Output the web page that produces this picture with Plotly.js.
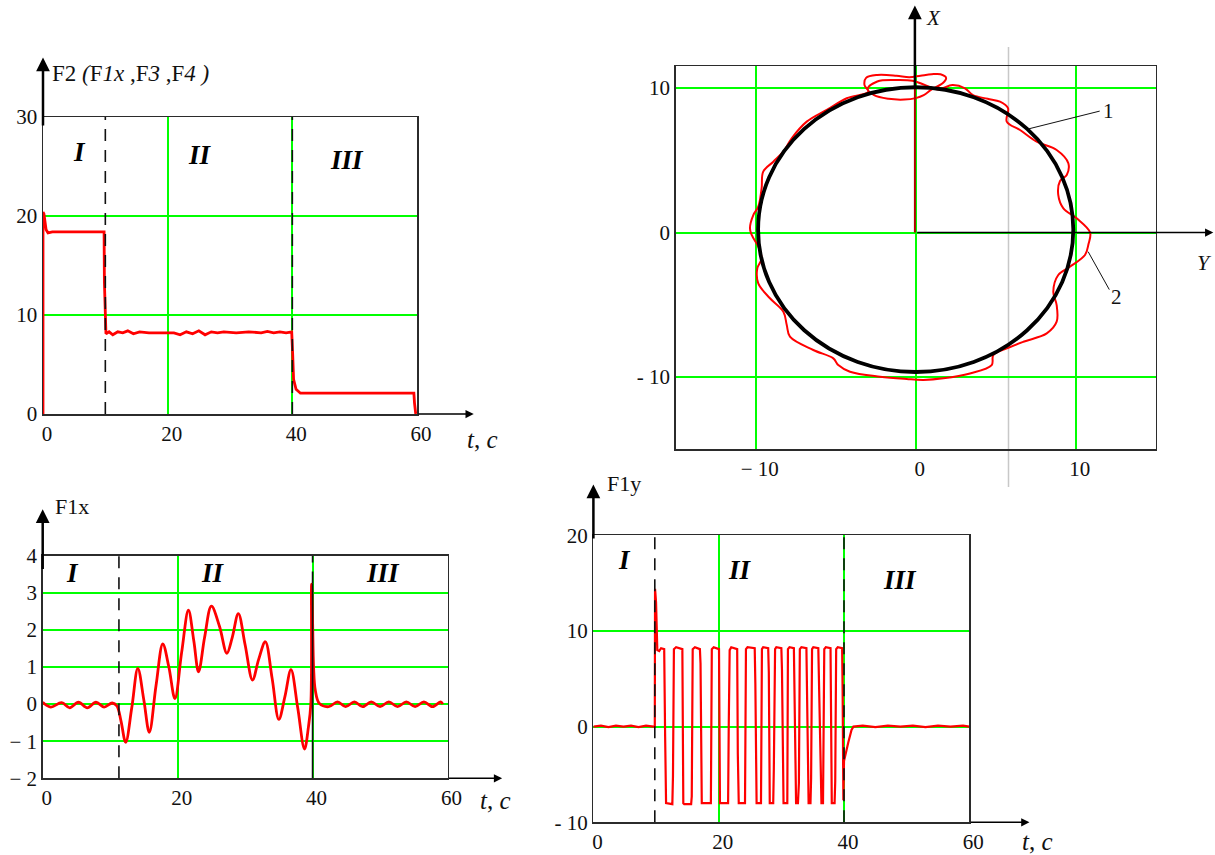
<!DOCTYPE html>
<html>
<head>
<meta charset="utf-8">
<script src="https://cdn.plot.ly/plotly-3.0.1.min.js"></script>
<style>
  html, body { margin: 0; padding: 0; background: #ffffff; }
  #chart { width: 1215px; height: 855px; }
</style>
</head>
<body>
<div id="chart"></div>
<script>
// ---- Data -------------------------------------------------------------

// F2 (F1x, F3, F4) versus time, s
const f2Time = [0, 0, 0.15, 0.5, 0.8, 1.5, 3, 5, 7, 9,
  9.8, 9.85, 10.0, 10.1, 10.6, 11.2, 12, 12.8, 13.6, 14.5,
  15.5, 17, 19, 21, 22, 23, 24, 25, 26, 27,
  28, 29, 31, 33, 35, 36, 37, 38, 39, 39.9,
  40.05, 40.2, 40.6, 41.3, 45, 50, 55, 59.5, 59.6, 59.8];
const f2Value = [0, 20.4, 20.2, 18.6, 18.3, 18.4, 18.4, 18.4, 18.4, 18.4,
  18.4, 13.3, 10.5, 8.1, 8.3, 8.0, 8.3, 8.2, 8.4, 8.1,
  8.3, 8.2, 8.2, 8.2, 8.0, 8.3, 8.1, 8.4, 8.0, 8.3,
  8.2, 8.3, 8.2, 8.3, 8.2, 8.35, 8.2, 8.3, 8.2, 8.3,
  6.1, 3.5, 2.5, 2.1, 2.1, 2.1, 2.1, 2.1, 1.1, 0];
const f2Switch = [10, 40];

// F1x versus time
const f1xTime = [0, 1.2, 2.8, 4.0, 5.3, 6.6, 7.9, 9.1, 10.3, 11.0,
  11.6, 12.3, 13.2, 14.1, 15.0, 15.8, 16.8, 17.8, 18.7, 19.6,
  20.6, 21.6, 22.4, 23.1, 24.0, 25.0, 26.2, 27.3, 28.1, 29.0,
  30.0, 31.1, 32.0, 33.0, 34.0, 35.0, 35.9, 36.8, 37.8, 38.8,
  39.4, 39.75, 39.85, 40.0, 40.15, 40.4, 41.0, 42.4, 43.7, 44.9,
  46.2, 47.4, 48.7, 50.0, 51.3, 52.6, 53.9, 55.2, 56.5, 57.8,
  59.0, 59.3];
const f1xValue = [0.05, -0.08, 0.04, -0.1, 0.05, -0.1, 0.05, -0.08, 0.03, -0.05,
  -0.45, -1.03, -0.1, 0.96, 0.1, -0.76, 0.5, 1.62, 1.0, 0.15,
  1.4, 2.53, 1.7, 0.87, 1.8, 2.64, 2.1, 1.37, 1.8, 2.44,
  1.6, 0.65, 1.2, 1.68, 0.7, -0.41, 0.2, 0.93, -0.1, -1.21,
  -0.6, 0.02, 3.23, 2.26, 1.0, 0.38, 0.02, -0.07, 0.06, -0.07,
  0.06, -0.07, 0.06, -0.07, 0.06, -0.07, 0.06, -0.07, 0.06, -0.07,
  0.06, 0.0];
const f1xSwitch = [11.3, 40];

// F1y versus time
const f1yTime = [0, 1.2, 2.4, 3.6, 4.8, 6.0, 7.2, 8.4, 9.6, 9.8,
  9.84, 10.0, 10.2, 10.5, 10.8, 11.3, 11.45, 11.6,
  12.6, 12.7, 12.85, 13.2, 14.2, 14.35, 14.5,
  15.6, 15.7, 15.85, 16.2, 17.0, 17.1, 17.3,
  18.75, 18.9, 19.2, 20.05, 20.2,
  21.5, 21.6, 21.75, 22.0, 22.95, 23.05, 23.2,
  24.2, 24.35, 24.6, 25.75, 25.85, 26.05,
  26.75, 26.9, 27.1, 27.9, 28.0, 28.15,
  28.7, 28.8, 29.0, 29.2, 30.0, 30.1, 30.35,
  30.95, 31.05, 31.3, 32.0, 32.1, 32.35,
  32.65, 32.8, 32.95, 33.2, 34.0, 34.1, 34.35,
  34.65, 34.75, 34.9, 35.1, 35.9, 36.1, 36.4,
  36.65, 36.72, 36.85, 37.1, 37.85, 38.05,
  38.5, 38.6, 38.75, 39.0, 39.7, 39.78, 39.9,
  40.0, 40.3, 40.7, 41.2, 41.5, 43, 45, 47, 49, 51, 53, 55, 57, 59, 60];
const f1yValue = [0, 0.1, -0.05, 0.1, 0, 0.1, -0.05, 0.1, 0, 0,
  14.4, 13.0, 8.0, 7.9, 8.2, 8.1, -1.0, -8.0,
  -8.1, -5.2, 8.1, 8.3, 8.1, -8.0, -8.1,
  -8.1, -7.3, 8.1, 8.3, 8.1, 6.6, -8.0,
  -8.0, 8.1, 8.3, 8.1, -8.0,
  -8.0, -0.2, 8.0, 8.3, 8.1, -2.8, -8.0,
  -8.0, 8.1, 8.3, 8.2, 4.5, -8.0,
  -8.0, 8.1, 8.3, 8.2, 5.7, -8.0,
  -8.0, -4.4, 8.1, 8.3, 8.2, 5.9, -8.0,
  -8.0, 8.1, 8.3, 8.2, 1.4, -8.0,
  -8.0, -5.9, 8.1, 8.3, 8.2, 3.1, -8.0,
  -8.0, -5.4, 8.1, 8.3, 8.2, 0.7, -8.0,
  -8.0, -3.5, 8.1, 8.3, 8.2, -8.0,
  -8.0, -5.7, 8.1, 8.3, 8.2, 3.7, -7.7,
  -3.6, -2.6, -1.6, -0.35, 0, 0.1, -0.05, 0.1, 0, 0.1, -0.05, 0.1, 0, 0.1, 0];
const f1ySwitch = [9.8, 40];

// Trajectory in the Y (horizontal) – X (vertical) plane, curve 2
const pathY = [-2.96, -3.2, -3.1, -2.4, -1.2, -0.4, 0.3, 1.0, 1.55, 1.9,
  1.7, 1.0, 0.5, 0.0, -0.7, -1.7, -2.6, -3.0, -2.4, -1.3,
  -0.2, 0.6, 1.4, 2.3, 3.08, 3.58, 4.5, 5.27, 5.77, 5.69,
  6.52, 7.56, 8.81, 9.54, 9.44, 9.02, 8.91, 9.23, 10.06, 10.9,
  10.8, 10.58, 9.64, 8.91, 8.6, 8.81, 8.81, 8.19, 6.73, 5.69,
  4.85, 4.75, 3.39, 1.73, 0.48, -0.56, -2.23, -4.11, -4.84, -5.15,
  -6.4, -7.86, -8.06, -8.27, -9.11, -9.84, -9.9, -9.63, -9.84, -10.25,
  -10.36, -10.15, -9.84, -9.63, -9.53, -8.9, -8.28, -7.75, -6.81, -5.56,
  -4.31, -2.96];
const pathX = [9.74, 10.2, 10.7, 10.9, 10.85, 10.75, 10.85, 10.95, 10.95, 10.7,
  10.35, 9.9, 9.5, 9.3, 9.2, 9.25, 9.5, 9.95, 10.45, 10.55,
  10.5, 10.2, 9.9, 10.2, 9.98, 9.5, 9.25, 9.05, 8.6, 7.67,
  7.09, 6.28, 5.71, 4.79, 3.98, 3.56, 2.6, 1.67, 0.98, 0.0,
  -0.8, -1.56, -2.37, -2.94, -4.1, -5.02, -6.17, -6.98, -7.56, -8.02,
  -8.48, -9.17, -9.75, -10.09, -10.2, -10.14, -9.98, -9.63, -9.17, -8.71,
  -8.13, -7.21, -6.4, -5.48, -4.55, -3.52, -2.48, -1.79, -0.98, -0.17,
  0.3, 1.21, 1.79, 3.06, 4.21, 4.9, 5.59, 6.52, 7.67, 8.48,
  9.29, 9.74];

// Reference circle, curve 1: centre [Y, X] and radius
const circleCenter = [0, 0.2];
const circleRadius = 9.85;

// Initial position vector along X
const vectorY = [-0.05, -0.05];
const vectorX = [0, 10];
const markerLineY = 5.8;

// Tick labels
const timeTicks = [0, 20, 40, 60];
const f2Ticks = [0, 10, 20, 30];
const f1xTicks = [-2, -1, 0, 1, 2, 3, 4];
const f1xTickText = ['\u2212 2', '\u2212 1', '0', '1', '2', '3', '4'];
const f1yTicks = [-10, 0, 10, 20];
const f1yTickText = ['- 10', '0', '10', '20'];
const planeTicks = [-10, 0, 10];
const planeTickTextH = ['\u2212 10', '0', '10'];
const planeTickTextV = ['- 10', '0', '10'];
const regimes = ['I', 'II', 'III'];

// ---- Layout helpers ---------------------------------------------------
const W = 1215, H = 855;
const serif = 'Liberation Serif, Times New Roman, serif';
const px = v => v / W;
const py = v => 1 - v / H;

function frameAxis(extra) {
  return Object.assign({
    showline: true, mirror: true, linecolor: '#2b2b2b', linewidth: 1.5,
    ticks: '', zeroline: false, showgrid: true,
    gridcolor: '#00ff00', gridwidth: 2,
    tickmode: 'array', fixedrange: true,
    tickfont: { family: serif, size: 21, color: '#111' }
  }, extra);
}
function timeAxis(extra) {
  return frameAxis(Object.assign({ ticklabelshift: 4, ticklabelstandoff: 0 }, extra));
}

const red = '#ff0000';

const traces = [
  { x: f2Time, y: f2Value, xaxis: 'x', yaxis: 'y', mode: 'lines',
    line: { color: red, width: 2.8 } },
  { x: pathY, y: pathX, xaxis: 'x2', yaxis: 'y2', mode: 'lines',
    line: { color: red, width: 2, shape: 'spline', smoothing: 1 } },
  { x: vectorY, y: vectorX, xaxis: 'x2', yaxis: 'y2', mode: 'lines',
    line: { color: '#b00000', width: 2 } },
  { x: f1xTime, y: f1xValue, xaxis: 'x3', yaxis: 'y3', mode: 'lines',
    line: { color: red, width: 2.8, shape: 'spline', smoothing: 1 } },
  { x: f1yTime, y: f1yValue, xaxis: 'x4', yaxis: 'y4', mode: 'lines',
    line: { color: red, width: 2.2 } }
];

const dash = '12px,9px';
function vline(xr, yr, t, y0, y1, style) {
  return Object.assign({ type: 'line', xref: xr, yref: yr, x0: t, x1: t, y0: y0, y1: y1,
    line: { color: '#111', width: 1.6, dash: dash } }, style || {});
}

const shapes = [
  vline('x', 'y', f2Switch[0], 0, 30),
  vline('x', 'y', f2Switch[1], 0, 30),
  vline('x3', 'y3', f1xSwitch[0], -2, 4),
  vline('x3', 'y3', f1xSwitch[1], -2, 3.25, { line: { color: '#111', width: 1.6 } }),
  vline('x3', 'y3', f1xSwitch[1], 3.25, 4),
  vline('x4', 'y4', f1ySwitch[0], -10, 20),
  vline('x4', 'y4', f1ySwitch[1], -10, 20),
  { type: 'line', xref: 'x2', yref: 'paper', x0: markerLineY, x1: markerLineY,
    y0: py(487), y1: py(47), layer: 'below', line: { color: '#c8c8c8', width: 1.5 } },
  { type: 'circle', xref: 'x2', yref: 'y2',
    x0: circleCenter[0] - circleRadius, x1: circleCenter[0] + circleRadius,
    y0: circleCenter[1] - circleRadius, y1: circleCenter[1] + circleRadius,
    line: { color: '#000', width: 3.8 } },
  { type: 'line', xref: 'x2', yref: 'y2', x0: 7.02, y0: 7.16, x1: 11.5, y1: 8.4,
    line: { color: '#111', width: 1 } },
  { type: 'line', xref: 'x2', yref: 'y2', x0: 10.78, y0: -1.33, x1: 12.1, y1: -3.95,
    line: { color: '#111', width: 1 } }
];

function arrow(xr, yr, x, y, ax, ay, w) {
  return { xref: xr, yref: yr, axref: xr, ayref: yr, x: x, y: y, ax: ax, ay: ay,
    text: '', showarrow: true, arrowhead: 2, arrowsize: 1.1, arrowwidth: w, arrowcolor: '#000' };
}
function label(x, y, text, size, anchor) {
  return { xref: 'paper', yref: 'paper', x: px(x), y: py(y), text: text, showarrow: false,
    xanchor: anchor || 'left', yanchor: 'middle',
    font: { family: serif, size: size, color: '#111' } };
}
function numeral(xr, yr, x, y, text) {
  return { xref: xr, yref: yr, x: x, y: y, text: '<b><i>' + text + '</i></b>', showarrow: false,
    font: { family: serif, size: 27, color: '#000' } };
}

const annotations = [
  // axis arrows
  arrow('x', 'y', 0, 36, 0, 29, 2.5),
  arrow('x', 'y', 69.1, 0, 60, 0, 1.5),
  arrow('x3', 'y3', 0, 5.25, 0, 3.6, 2.5),
  arrow('x3', 'y3', 68.1, -2, 60, -2, 1.5),
  arrow('x4', 'y4', 0, 25.3, 0, 19.5, 2.5),
  arrow('x4', 'y4', 69.6, -10, 60, -10, 1.5),
  arrow('x2', 'y2', -0.05, 15.7, -0.05, 10, 2.5),
  arrow('x2', 'y2', 18.6, 0, 0, 0, 1.5),
  // axis names
  label(50, 73, 'F2 <i>(</i>F<i>1x</i> ,F<i>3</i> ,F<i>4</i> <i>)</i>', 23),
  label(465, 439, '<i>t</i>, <i>c</i>', 25),
  label(53, 507, 'F1x', 22),
  label(478, 800, '<i>t</i>, <i>c</i>', 25),
  label(605, 484, 'F1y', 22),
  label(1020, 841, '<i>t</i>, <i>c</i>', 25),
  label(924, 18, '<i>X</i>', 21),
  label(1214, 262, '<i>Y</i>', 22, 'right'),
  { xref: 'x2', yref: 'y2', x: 11.6, y: 8.4, text: '1', showarrow: false, xanchor: 'left',
    font: { family: serif, size: 21, color: '#111' } },
  { xref: 'x2', yref: 'y2', x: 12.1, y: -4.45, text: '2', showarrow: false, xanchor: 'left',
    font: { family: serif, size: 21, color: '#111' } },
  // regime numerals
  numeral('x', 'y', 5.9, 26.5, regimes[0]),
  numeral('x', 'y', 25.2, 26.2, regimes[1]),
  numeral('x', 'y', 48.8, 25.7, regimes[2]),
  numeral('x3', 'y3', 4.35, 3.54, regimes[0]),
  numeral('x3', 'y3', 25.3, 3.54, regimes[1]),
  numeral('x3', 'y3', 50.5, 3.54, regimes[2]),
  numeral('x4', 'y4', 5.0, 17.4, regimes[0]),
  numeral('x4', 'y4', 23.4, 16.4, regimes[1]),
  numeral('x4', 'y4', 48.9, 15.3, regimes[2])
];

const layout = {
  width: W, height: H, autosize: false,
  margin: { l: 0, r: 0, t: 0, b: 0, pad: 0 },
  paper_bgcolor: '#ffffff', plot_bgcolor: '#ffffff',
  showlegend: false, hovermode: false,
  xaxis: timeAxis({ domain: [px(43), px(417)], range: [0, 60], anchor: 'y',
    tickvals: timeTicks, ticktext: timeTicks.map(String) }),
  yaxis: frameAxis({ domain: [py(414), py(117)], range: [0, 30], anchor: 'x',
    tickvals: f2Ticks, ticktext: f2Ticks.map(String) }),
  xaxis2: timeAxis({ domain: [px(675.7), px(1155.7)], range: [-15, 15], anchor: 'y2',
    tickvals: planeTicks, ticktext: planeTickTextH }),
  yaxis2: frameAxis({ domain: [py(449.3), py(66.3)], range: [-15, 11.5], anchor: 'x2',
    tickvals: planeTicks, ticktext: planeTickTextV }),
  xaxis3: timeAxis({ domain: [px(42.7), px(447.5)], range: [0, 60], anchor: 'y3',
    tickvals: timeTicks, ticktext: timeTicks.map(String) }),
  yaxis3: frameAxis({ domain: [py(778.3), py(555.7)], range: [-2, 4], anchor: 'x3',
    tickvals: f1xTicks, ticktext: f1xTickText }),
  xaxis4: timeAxis({ domain: [px(593.4), px(969.3)], range: [0, 60], anchor: 'y4',
    tickvals: timeTicks, ticktext: timeTicks.map(String) }),
  yaxis4: frameAxis({ domain: [py(822.3), py(535.3)], range: [-10, 20], anchor: 'x4',
    tickvals: f1yTicks, ticktext: f1yTickText }),
  shapes: shapes,
  annotations: annotations
};

Plotly.newPlot('chart', traces, layout, { staticPlot: true, displayModeBar: false });
</script>
</body>
</html>
